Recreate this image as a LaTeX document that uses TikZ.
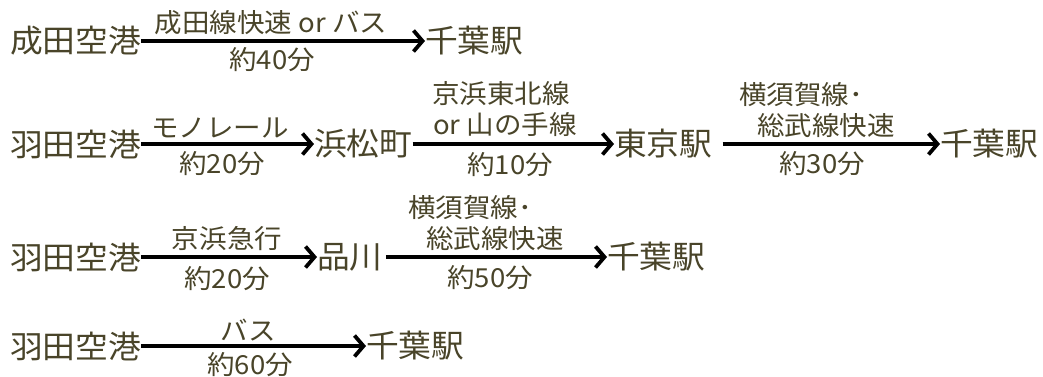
\documentclass[tikz,border=0pt]{standalone}
\usepackage{fontspec}
\usetikzlibrary{arrows.meta}
\newfontfamily\stfont[FakeStretch=1.04]{Noto Sans CJK JP}
\newfontfamily\lbfont[FakeStretch=1.05]{Noto Sans CJK JP}
\definecolor{txt}{HTML}{494429}
\begin{document}
\begin{tikzpicture}[x=1pt,y=-1pt,
  station/.style={inner sep=0pt, anchor=west, text=txt, font={\stfont\fontsize{31.5}{31.5}\selectfont}},
  lab/.style={inner sep=0pt, text=txt, align=center, font={\lbfont\fontsize{26.2}{31}\selectfont}},
  arr/.style={line width=3.8pt, -{Straight Barb[length=9pt,width=21pt]}}]
\useasboundingbox (0,0) rectangle (1043,376);
% row 1
\node[station] (n1a) at (10,41) {成田空港};
\node[station] (n1b) at (425,41) {千葉駅};
\draw[arr] (n1a.east) -- (n1b.west);
\node[lab, anchor=south] (l1u) at (271,35) {成田線快速 or バス};
\node[lab, anchor=north] (l1d) at (272,47) {約40分};
% row 2
\node[station] (n2a) at (10,144) {羽田空港};
\node[station] (n2b) at (314,144) {浜松町};
\node[station] (n2c) at (614,144) {東京駅};
\node[station] (n2d) at (940,144) {千葉駅};
\draw[arr] (n2a.east) -- (n2b.west);
\draw[arr] (n2b.east) -- (n2c.west);
\draw[arr, shorten <=10pt] (n2c.east) -- (n2d.west);
\node[lab, anchor=south] (l2u) at (220,138) {モノレール};
\node[lab, anchor=north] (l2d) at (222,151) {約20分};
\node[lab, anchor=south] (l3u) at (505,137) {京浜東北線\hspace*{0.3em}\\or 山の手線};
\node[lab, anchor=north] (l3d) at (510,152) {約10分};
\node[lab, anchor=south] (l4u) at (826,138) {横須賀線･\hspace*{1.9em}\\総武線快速};
\node[lab, anchor=north] (l4d) at (822,151) {約30分};
% row 3
\node[station] (n3a) at (10,257) {羽田空港};
\node[station] (n3b) at (317,257) {品川};
\node[station] (n3c) at (607,257) {千葉駅};
\draw[arr] (n3a.east) -- (n3b.west);
\draw[arr, shorten <=3pt] (n3b.east) -- (n3c.west);
\node[lab, anchor=south] (l5u) at (227,251) {京浜急行};
\node[lab, anchor=north] (l5d) at (227,266) {約20分};
\node[lab, anchor=south] (l6u) at (495,251) {横須賀線･\hspace*{1.9em}\\総武線快速};
\node[lab, anchor=north] (l6d) at (490,265) {約50分};
% row 4
\node[station] (n4a) at (10,346) {羽田空港};
\node[station] (n4b) at (366,346) {千葉駅};
\draw[arr] (n4a.east) -- (n4b.west);
\node[lab, anchor=south] (l7u) at (248,341) {バス};
\node[lab, anchor=north] (l7d) at (250,352) {約60分};
\end{tikzpicture}
\end{document}
